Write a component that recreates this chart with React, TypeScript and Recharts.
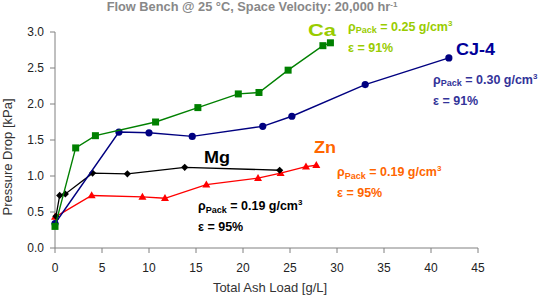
import React from "react";
import { ScatterChart, Scatter, XAxis, YAxis } from "recharts";

// Total ash load [g/L] vs pressure drop [kPa] for each ash type
const caPoints = [
  { x: 0, y: 0.3 }, { x: 2.2, y: 1.39 }, { x: 4.3, y: 1.56 }, { x: 10.7, y: 1.75 },
  { x: 15.2, y: 1.95 }, { x: 19.5, y: 2.14 }, { x: 21.7, y: 2.16 }, { x: 24.8, y: 2.47 },
  { x: 28.5, y: 2.81 }, { x: 29.3, y: 2.85 },
];
const cj4Points = [
  { x: 0, y: 0.34 }, { x: 6.8, y: 1.61 }, { x: 10.0, y: 1.6 }, { x: 14.6, y: 1.55 },
  { x: 22.1, y: 1.69 }, { x: 25.2, y: 1.83 }, { x: 33.0, y: 2.27 }, { x: 41.9, y: 2.64 },
];
const mgPoints = [
  { x: 0.1, y: 0.44 }, { x: 0.5, y: 0.73 }, { x: 1.1, y: 0.75 }, { x: 4.0, y: 1.04 },
  { x: 7.7, y: 1.03 }, { x: 13.8, y: 1.12 }, { x: 23.9, y: 1.08 },
];
const znPoints = [
  { x: 0, y: 0.43 }, { x: 3.9, y: 0.73 }, { x: 9.3, y: 0.71 }, { x: 11.7, y: 0.69 },
  { x: 16.1, y: 0.88 }, { x: 21.6, y: 0.97 }, { x: 24.0, y: 1.04 }, { x: 26.7, y: 1.13 },
  { x: 27.8, y: 1.15 },
];

const xTicks = [0, 5, 10, 15, 20, 25, 30, 35, 40, 45];
const yTicks = [0, 0.5, 1, 1.5, 2, 2.5, 3];

const FONT = "Arial, 'Liberation Sans', sans-serif";
const AXIS = "#808080";

const square = (p: any) => (
  <rect x={p.cx - 3.5} y={p.cy - 3.5} width={7} height={7} fill="#008000" />
);
const circle = (p: any) => <circle cx={p.cx} cy={p.cy} r={3.6} fill="#000080" />;
const diamond = (p: any) => (
  <polygon
    points={`${p.cx},${p.cy - 3.6} ${p.cx + 3.6},${p.cy} ${p.cx},${p.cy + 3.6} ${p.cx - 3.6},${p.cy}`}
    fill="#000000"
  />
);
const triangle = (p: any) => (
  <polygon
    points={`${p.cx},${p.cy - 4.2} ${p.cx + 4},${p.cy + 2.8} ${p.cx - 4},${p.cy + 2.8}`}
    fill="#ff0000"
  />
);

// ρPack / ε annotation block
function Packing({ x, y, rho, eps, color }: { x: number; y: number; rho: string; eps: string; color: string }) {
  return (
    <g fill={color} fontFamily={FONT} fontWeight="bold" fontSize={12.5}>
      <text x={x} y={y}>
        <tspan>ρ</tspan>
        <tspan fontSize={9} dy={2.5}>Pack</tspan>
        <tspan dy={-2.5}>{` = ${rho} g/cm`}</tspan>
        <tspan fontSize={8} dy={-5}>3</tspan>
      </text>
      <text x={x} y={y + 21}>{`ε = ${eps}%`}</text>
    </g>
  );
}

// series name, stretched a little wider than the plain font
function SeriesName({ x, y, w, color, children }: { x: number; y: number; w: number; color: string; children: string }) {
  return (
    <text
      x={x}
      y={y}
      fill={color}
      fontFamily={FONT}
      fontWeight="bold"
      fontSize={16}
      textLength={w}
      lengthAdjust="spacingAndGlyphs"
    >
      {children}
    </text>
  );
}

export default function App() {
  return (
    <div style={{ position: "absolute", left: 0, top: 0, width: 538, height: 298, background: "#fff" }}>
      <ScatterChart width={538} height={298} margin={{ top: 32, right: 60, bottom: 0, left: 0 }}>
        <XAxis
          type="number"
          dataKey="x"
          domain={[0, 45]}
          ticks={xTicks}
          height={50}
          tickSize={5}
          tickMargin={10}
          stroke={AXIS}
          tick={{ fill: "#222", fontSize: 12, fontFamily: FONT }}
        />
        <YAxis
          type="number"
          dataKey="y"
          domain={[0, 3]}
          ticks={yTicks}
          width={55}
          tickSize={5}
          tickMargin={6}
          stroke={AXIS}
          tickFormatter={(v: number) => v.toFixed(1)}
          tick={{ fill: "#222", fontSize: 12, fontFamily: FONT }}
        />
        <Scatter data={znPoints} shape={triangle} line={{ stroke: "#ff0000", strokeWidth: 1.4 }} isAnimationActive={false} />
        <Scatter data={mgPoints} shape={diamond} line={{ stroke: "#000000", strokeWidth: 1.3 }} isAnimationActive={false} />
        <Scatter data={cj4Points} shape={circle} line={{ stroke: "#000080", strokeWidth: 1.4 }} isAnimationActive={false} />
        <Scatter data={caPoints} shape={square} line={{ stroke: "#008000", strokeWidth: 1.4 }} isAnimationActive={false} />
      </ScatterChart>

      <svg
        width={538}
        height={298}
        style={{ position: "absolute", left: 0, top: 0, pointerEvents: "none" }}
      >
        <text x={252} y={11} textAnchor="middle" fill="#888" fontFamily={FONT} fontWeight="bold" fontSize={12.8}>
          <tspan>Flow Bench @ 25 °C, Space Velocity: 20,000 hr</tspan>
          <tspan fontSize={8} dy={-4}>-1</tspan>
        </text>
        <text
          x={12}
          y={157}
          transform="rotate(-90 12 157)"
          textAnchor="middle"
          fill="#333"
          fontFamily={FONT}
          fontSize={13}
        >
          Pressure Drop [kPa]
        </text>
        <text x={270} y={292} textAnchor="middle" fill="#333" fontFamily={FONT} fontSize={13}>
          Total Ash Load [g/L]
        </text>

        <SeriesName x={308} y={35.5} w={28} color="#99cc00">Ca</SeriesName>
        <SeriesName x={456} y={55} w={39} color="#000099">CJ-4</SeriesName>
        <SeriesName x={204} y={162.5} w={26} color="#000000">Mg</SeriesName>
        <SeriesName x={314} y={152.5} w={22} color="#ff6600">Zn</SeriesName>

        <Packing x={348} y={30.5} rho="0.25" eps="91" color="#99cc00" />
        <Packing x={433} y={83.5} rho="0.30" eps="91" color="#333399" />
        <Packing x={198} y={210} rho="0.19" eps="95" color="#000000" />
        <Packing x={337} y={176} rho="0.19" eps="95" color="#ff6600" />
      </svg>
    </div>
  );
}
